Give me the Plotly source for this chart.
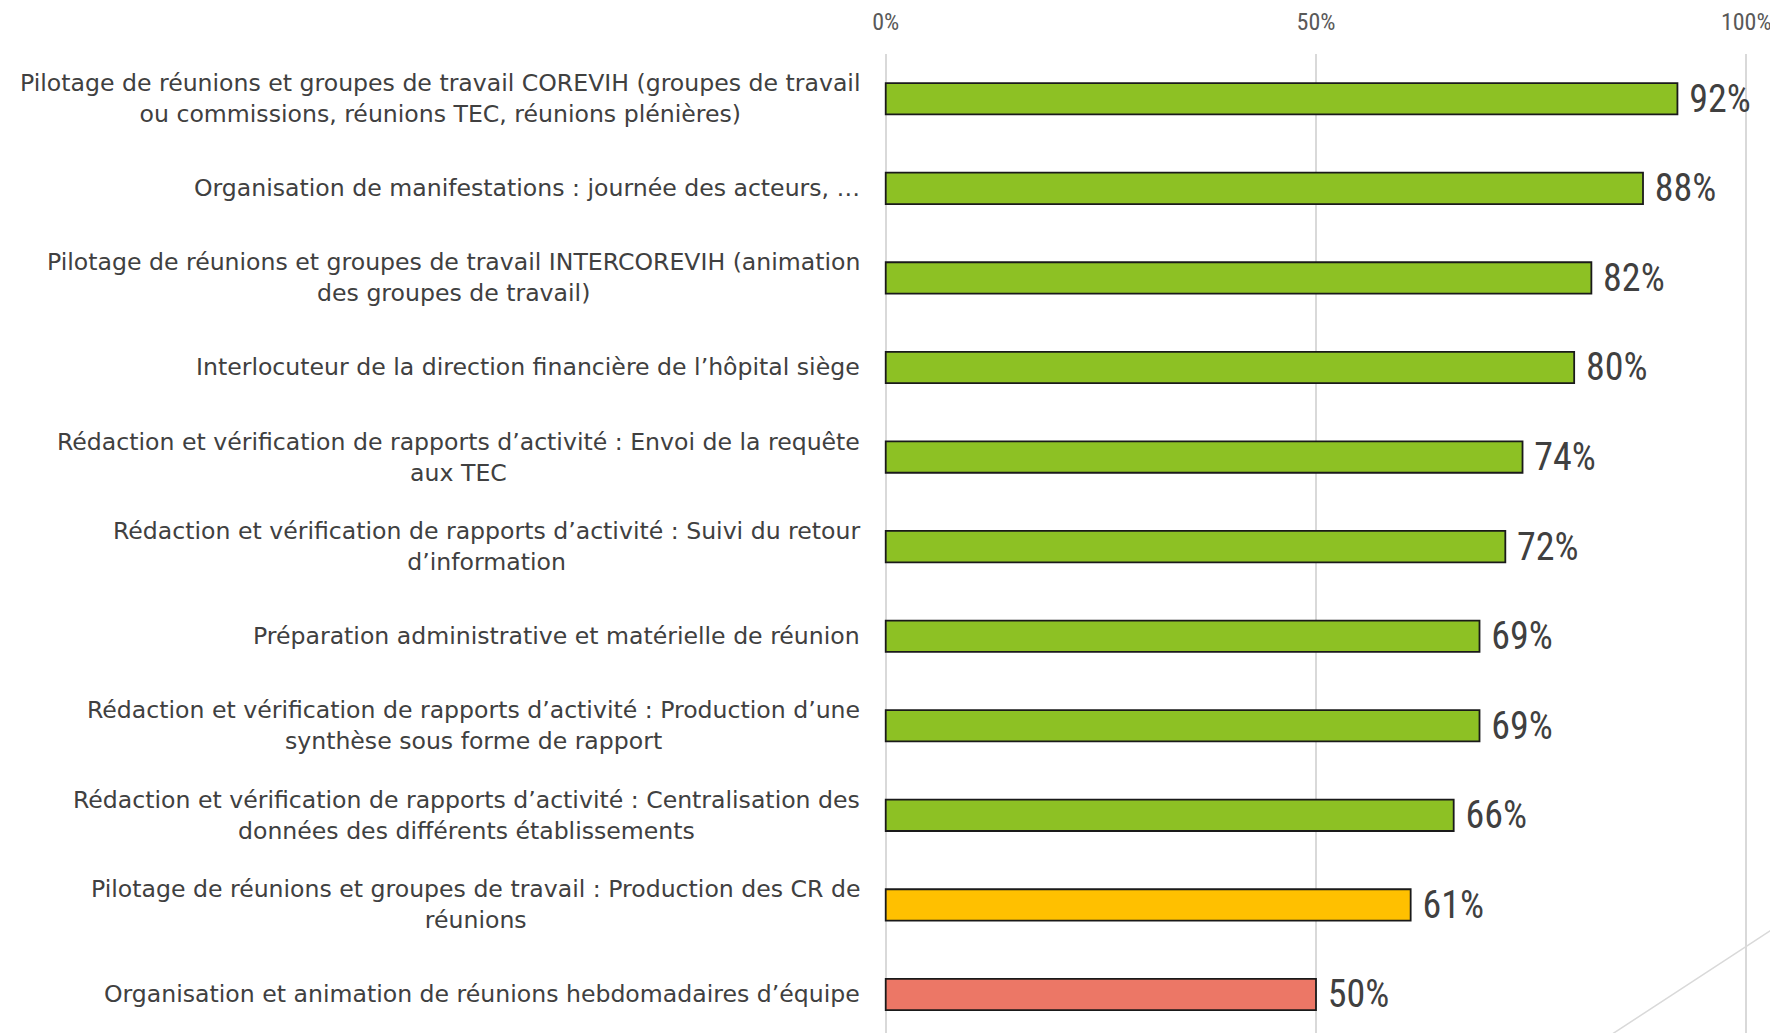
import plotly.graph_objects as go

categories = [
    "Pilotage de réunions et groupes de travail COREVIH (groupes de travail<br>ou commissions, réunions TEC, réunions plénières)",
    "Organisation de manifestations : journée des acteurs, …",
    "Pilotage de réunions et groupes de travail INTERCOREVIH (animation<br>des groupes de travail)",
    "Interlocuteur de la direction financière de l’hôpital siège",
    "Rédaction et vérification de rapports d’activité : Envoi de la requête<br>aux TEC",
    "Rédaction et vérification de rapports d’activité : Suivi du retour<br>d’information",
    "Préparation administrative et matérielle de réunion",
    "Rédaction et vérification de rapports d’activité : Production d’une<br>synthèse sous forme de rapport",
    "Rédaction et vérification de rapports d’activité : Centralisation des<br>données des différents établissements",
    "Pilotage de réunions et groupes de travail : Production des CR de<br>réunions",
    "Organisation et animation de réunions hebdomadaires d’équipe",
]
values = [0.92, 0.88, 0.82, 0.80, 0.74, 0.72, 0.69, 0.69, 0.66, 0.61, 0.50]
value_labels = ["92%", "88%", "82%", "80%", "74%", "72%", "69%", "69%", "66%", "61%", "50%"]
bar_colors = ["#8DC124"] * 9 + ["#FFC000", "#EC7766"]
x_ticks = [0, 0.5, 1.0]
x_tick_labels = ["0%", "50%", "100%"]

NARROW = "Liberation Sans Narrow, Arial Narrow, Roboto Condensed, sans-serif"
LABEL_FONT = "DejaVu Sans, Verdana, sans-serif"

fig = go.Figure()
fig.add_trace(go.Bar(
    x=values,
    y=categories,
    orientation="h",
    marker=dict(color=bar_colors, line=dict(color="#1a1a1a", width=1.8)),
    text=["\u00a0" + t for t in value_labels],
    textposition="outside",
    constraintext="none",
    textfont=dict(family=NARROW, size=38, color="#404040"),
    cliponaxis=False,
    hoverinfo="skip",
))

for cat in categories:
    fig.add_annotation(
        x=0, xref="paper", xshift=-22, xanchor="right",
        y=cat, yref="y", yanchor="middle",
        text=cat, align="center", showarrow=False,
        font=dict(family=LABEL_FONT, size=23.6, color="#404040"),
    )

fig.add_shape(
    type="line", xref="paper", yref="paper",
    x0=0.81, y0=-0.02, x1=1.07, y1=0.13,
    line=dict(color="#d9d9d9", width=1.5),
)

fig.update_layout(
    width=1770, height=1025,
    margin=dict(l=876, r=30, t=46, b=0),
    paper_bgcolor="white", plot_bgcolor="white",
    showlegend=False,
    bargap=0.65,
    xaxis=dict(
        side="top", range=[-0.002, 1.002],
        tickvals=x_ticks, ticktext=x_tick_labels,
        showgrid=True, gridcolor="#d9d9d9", gridwidth=1.5,
        zeroline=False, showline=False, ticks="",
        ticklabelstandoff=18,
        tickfont=dict(family=NARROW, size=24, color="#595959"),
    ),
    yaxis=dict(
        type="category", categoryorder="array", categoryarray=categories,
        range=[10.43, -0.5],
        showticklabels=False, showgrid=False, zeroline=False, ticks="",
    ),
)

fig.write_html("out.html")
